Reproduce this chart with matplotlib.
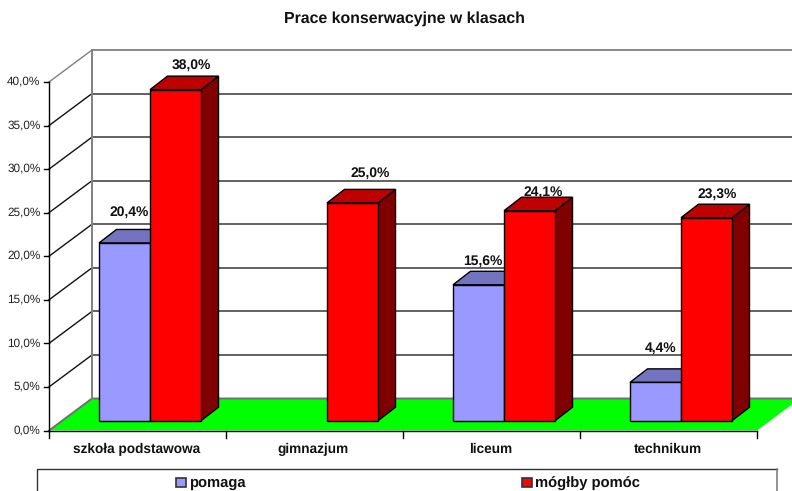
import matplotlib
matplotlib.use("Agg")
import matplotlib.pyplot as plt
from matplotlib.patches import Polygon, Rectangle

plt.rcParams["font.family"] = ["Liberation Sans", "DejaVu Sans"]
plt.rcParams["text.hinting"] = "no_hinting"

KATEGORIE = ["szkoła podstawowa", "gimnazjum", "liceum", "technikum"]
POMAGA = [20.4, None, 15.6, 4.4]
MOGLBY = [38.0, 25.0, 24.1, 23.3]
TICKI = [0, 5, 10, 15, 20, 25, 30, 35, 40]
ETYKIETY_Y = ["0,0%", "5,0%", "10,0%", "15,0%", "20,0%", "25,0%", "30,0%", "35,0%", "40,0%"]

# przesuniecia etykiet wzgledem slupka (px)
ODS_POMAGA = [(4.2, -30.7), None, (4.5, -24.0), (5.5, -34.4)]
ODS_MOGLBY = [(15.5, -24.0), (17.5, -29.4), (13.5, -19.0), (10.5, -23.7)]

# geometria rzutu 3D w pikselach
X0, X1, Y0, Y40 = 49.0, 757.0, 430.5, 82.0
DX, DY = 43.0, -32.0
SZER_KAT = (X1 - X0) / 4
SZER = 51.0
SKALA = (Y0 - Y40) / 40.0
BAZA = 420.7
GL_X, GL_Y = 17.5, -13.5
TEKST = "#111111"


def y_pix(v):
    return Y0 - v * SKALA


fig = plt.figure(figsize=(7.92, 4.91), dpi=100)
ax = fig.add_axes([0, 0, 1, 1])
ax.set_xlim(0, 792)
ax.set_ylim(491, 0)
ax.axis("off")

ax.text(404, 19, "Prace konserwacyjne w klasach", ha="center", va="center",
        fontsize=11.4, fontweight="bold", color=TEKST)

# podloga
ax.add_patch(Polygon([(X0, Y0), (X0 + DX, Y0 + DY), (X1 + DX, Y0 + DY), (X1, Y0)],
                     facecolor="#00ff00", edgecolor="none", zorder=1))
ax.plot([X0, X0 + DX, 792], [Y0, Y0 + DY, Y0 + DY], color="#707070", lw=1.4, zorder=2)

# siatka
for t in TICKI[1:]:
    y = y_pix(t)
    kolor = "#808080" if t == 40 else "#111111"
    ax.plot([X0, X0 + DX], [y, y + DY], color=kolor, lw=1.0, zorder=2)
    ax.plot([X0 + DX, 792], [y + DY, y + DY], color="#808080" if t == 40 else "#555555",
            lw=1.3, zorder=2)
ax.plot([X0 + DX, X0 + DX], [Y0 + DY, Y40 + DY], color="#808080", lw=1.4, zorder=2)

# osie
ax.plot([X0, X0], [Y40, Y0 + 7], color="black", lw=1.0, zorder=6)
ax.plot([X0, X1], [Y0, Y0], color="black", lw=1.0, zorder=6)
for t, et in zip(TICKI, ETYKIETY_Y):
    y = y_pix(t)
    ax.plot([X0 - 5, X0], [y, y], color="black", lw=1.0, zorder=6)
    ax.text(40.5, y - 0.5, et, ha="right", va="center", fontsize=8.5, color="#222222")
for i in range(1, 5):
    x = X0 + i * SZER_KAT
    ax.plot([x, x], [Y0, Y0 + 7], color="black", lw=1.0, zorder=6)
for i, nazwa in enumerate(KATEGORIE):
    ax.text(X0 + (i + 0.5) * SZER_KAT - 1, 449, nazwa, ha="center", va="center",
            fontsize=9.8, fontweight="bold", color=TEKST)


def slupek(x, v, przod, gora, bok, z):
    yg = BAZA - v * SKALA
    ax.add_patch(Polygon([(x + SZER, BAZA), (x + SZER + GL_X, BAZA + GL_Y),
                          (x + SZER + GL_X, yg + GL_Y), (x + SZER, yg)],
                         facecolor=bok, edgecolor="black", lw=1.0, zorder=z))
    ax.add_patch(Polygon([(x, yg), (x + GL_X, yg + GL_Y), (x + SZER + GL_X, yg + GL_Y),
                          (x + SZER, yg)],
                         facecolor=gora, edgecolor="black", lw=1.0, zorder=z))
    ax.add_patch(Rectangle((x, yg), SZER, BAZA - yg, facecolor=przod,
                           edgecolor="black", lw=1.0, zorder=z + 0.1))


def etykieta(x, v, ods):
    ax.text(x + ods[0], BAZA - v * SKALA + ods[1], f"{v:.1f}%".replace(".", ","),
            ha="center", va="center", fontsize=10, fontweight="bold", color=TEKST, zorder=8)


for i in range(4):
    srodek = X0 + 101 + i * SZER_KAT
    if POMAGA[i] is not None:
        slupek(srodek - SZER, POMAGA[i], "#9999ff", "#7373bf", "#4d4d80", 3)
        etykieta(srodek - SZER / 2, POMAGA[i], ODS_POMAGA[i])
    slupek(srodek, MOGLBY[i], "#ff0000", "#bf0000", "#800000", 4)
    etykieta(srodek + SZER / 2, MOGLBY[i], ODS_MOGLBY[i])

# legenda, ucieta dolem jak w oryginale
ax.plot([36.5, 36.5, 777], [491, 469, 469], color="#333333", lw=1.0, zorder=6)
ax.plot([777, 777], [469, 491], color="#808080", lw=1.2, zorder=6)
ax.add_patch(Rectangle((176, 477.5), 10, 9.5, facecolor="#9999ff", edgecolor="#333333", lw=1.2))
ax.text(189, 483, "pomaga", ha="left", va="center", fontsize=10.6,
        fontweight="bold", color=TEKST)
ax.add_patch(Rectangle((522, 477.5), 10, 9.5, facecolor="#ff0000", edgecolor="#333333", lw=1.2))
ax.text(535, 483, "mógłby pomóc", ha="left", va="center", fontsize=10.6,
        fontweight="bold", color=TEKST)

fig.savefig("out.png", dpi=100)
